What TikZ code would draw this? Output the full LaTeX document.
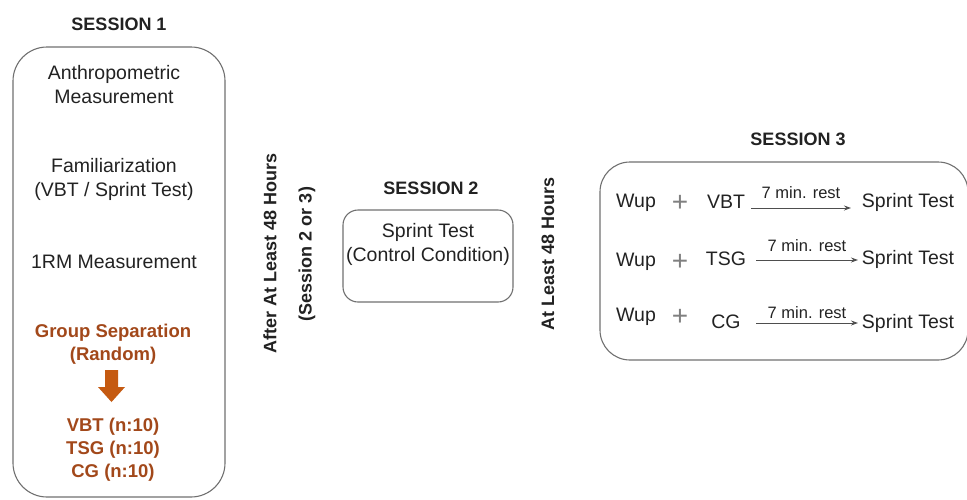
\documentclass[tikz,border=0pt]{standalone}
\usepackage{fontspec}
\setmainfont{Liberation Sans}
\usetikzlibrary{arrows.meta}
\definecolor{txt}{HTML}{222222}
\definecolor{brown}{HTML}{A2481A}
\definecolor{orng}{HTML}{C55A11}
\definecolor{edge}{HTML}{707070}
\begin{document}
\begin{tikzpicture}[x=1pt,y=-1pt,
  body/.style={font=\fontsize{19.5}{24}\selectfont, text=txt, align=center, inner sep=0pt},
  head/.style={font=\fontsize{18}{20}\selectfont\bfseries, text=txt, inner sep=0pt},
  grp/.style={font=\fontsize{18.5}{23}\selectfont\bfseries, text=brown, align=center, inner sep=0pt},
  vert/.style={font=\fontsize{18}{22}\selectfont\bfseries, text=txt, rotate=90, inner sep=0pt},
  frame/.style={draw=edge, line width=1.1pt},
  small/.style={font=\fontsize{16.5}{18}\selectfont, text=txt, inner sep=0pt},
  restarrow/.style={draw=txt!80, line width=1pt, -{Stealth[length=7pt,width=5pt]}}
]
\useasboundingbox (0,0) rectangle (967,499);
% Session 1
\node[head] (s1) at (119,24) {SESSION 1};
\draw[frame, rounded corners=34pt] (13,47) rectangle (225,497);
\node[body] (anth) at (114,85) {Anthropometric\\Measurement};
\node[body] (fam) at (114,179) {Familiarization\\(VBT / Sprint Test)};
\node[body] (rm) at (114,262) {1RM Measurement};
\node[grp] (grp) at (113,344) {Group Separation\\(Random)};
\fill[orng] (105,370) -- (118,370) -- (118,387) -- (125,387) -- (111.5,402) -- (98,387) -- (105,387) -- cycle;
\node[grp] (groups) at (113,450) {VBT (n:10)\\TSG (n:10)\\CG (n:10)};
% Vertical texts
\node[vert] (v1) at (270,253) {After At Least 48 Hours};
\node[vert] (v2) at (307,254) {(Session 2 or 3)};
% Session 2
\node[head] (s2) at (431,188) {SESSION 2};
\draw[frame, rounded corners=15pt] (343,210) rectangle (513,302);
\node[body] (sp2) at (428,244) {Sprint Test\\(Control Condition)};
\node[vert] (v3) at (548,254) {At Least 48 Hours};
% Session 3
\node[head] (s3) at (798,139) {SESSION 3};
\draw[frame, rounded corners=30pt] (600,162) rectangle (968,360);
% rows
\foreach \i/\g/\y/\yg/\ya/\yl/\ys/\xa/\xb in {1/VBT/203/202/208/193/202/751/851, 2/TSG/262/259/260/246/259/756/858, 3/CG/317/322/323/313/323/756/858}{
  \node[body] (w\i) at (636,\y) {Wup};
  \node[font=\fontsize{28}{28}\selectfont, text=gray, inner sep=0pt] (p\i) at (680,\y) {+};
  \node[body] (g\i) at (726,\yg) {\g};
  \coordinate (a\i) at (\xa,\ya);
  \coordinate (b\i) at (\xb,\ya);
  \draw[restarrow] (a\i) -- (b\i);
  \node[small] (l\i) at ({(\xa+\xb)/2},\yl) {7 min. rest};
  \node[body] (t\i) at (908,\ys) {Sprint Test};
}
\end{tikzpicture}
\end{document}
